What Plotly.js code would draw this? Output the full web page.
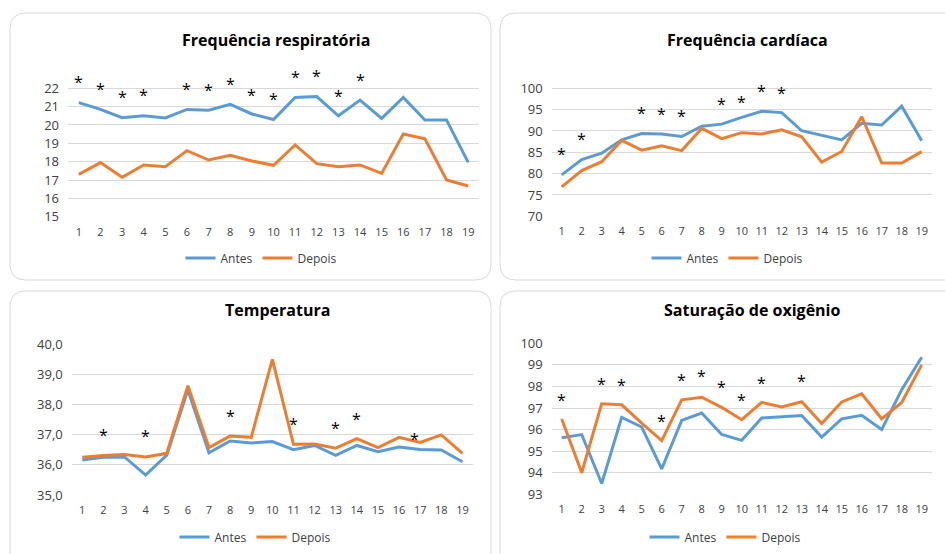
<!DOCTYPE html>
<html>
<head>
<meta charset="utf-8">
<script src="https://cdn.plot.ly/plotly-3.0.1.min.js"></script>
<style>html,body{margin:0;padding:0;background:#fff;}#chart{width:945px;height:554px;}</style>
</head>
<body>
<div id="chart"></div>
<script>
// ---- data ----
const cats = [1,2,3,4,5,6,7,8,9,10,11,12,13,14,15,16,17,18,19];
const seriesNames = ["Antes", "Depois"];

const titleFR = "Frequência respiratória";
const frAntes  = [21.22,20.85,20.40,20.50,20.38,20.85,20.80,21.13,20.60,20.30,21.50,21.55,20.50,21.36,20.36,21.50,20.27,20.27,17.96];
const frDepois = [17.31,17.95,17.15,17.82,17.73,18.60,18.09,18.35,18.04,17.80,18.91,17.89,17.73,17.82,17.36,19.51,19.25,17.00,16.67];
const frTicks = [15,16,17,18,19,20,21,22];
const frSigX = [1,2,3,4,6,7,8,9,10,11,12,13,14];
const frSigY = [22.55,22.18,21.73,21.85,22.18,22.15,22.45,21.87,21.64,22.82,22.87,21.82,22.69];

const titleFC = "Frequência cardíaca";
const fcAntes  = [79.7,83.3,84.8,87.9,89.4,89.3,88.7,91.1,91.6,93.2,94.6,94.3,90.05,89.0,87.9,91.8,91.4,95.8,87.7];
const fcDepois = [76.9,80.7,82.8,87.8,85.5,86.5,85.4,90.6,88.2,89.6,89.3,90.25,88.65,82.7,85.2,93.35,82.5,82.5,85.15];
const fcTicks = [70,75,80,85,90,95,100];
const fcSigX = [1,2,5,6,7,9,10,11,12];
const fcSigY = [85.5,89.0,95.1,94.9,94.35,97.35,97.65,100.3,99.9];

const titleT = "Temperatura";
const tAntes  = [36.16,36.25,36.26,35.66,36.32,38.48,36.40,36.79,36.72,36.77,36.50,36.64,36.31,36.64,36.43,36.59,36.51,36.49,36.10];
const tDepois = [36.25,36.31,36.34,36.26,36.38,38.62,36.57,36.95,36.91,39.49,36.68,36.69,36.55,36.87,36.57,36.91,36.74,36.99,36.38];
const tTicks = [35,36,37,38,39,40];
const tSigX = [2,4,8,11,13,14,16.75];
const tSigY = [37.13,37.07,37.76,37.48,37.35,37.65,37.00];

const titleS = "Saturação de oxigênio";
const sAntes  = [95.62,95.77,93.50,96.57,96.12,94.18,96.43,96.77,95.77,95.50,96.54,96.58,96.65,95.65,96.50,96.66,96.00,97.85,99.35];
const sDepois = [96.49,94.00,97.20,97.15,96.30,95.49,97.38,97.50,97.03,96.46,97.26,97.05,97.29,96.28,97.28,97.66,96.50,97.26,99.00];
const sTicks = [93,94,95,96,97,98,99,100];
const sSigX = [1,3,4,6,7,8,9,10,11,13];
const sSigY = [97.57,98.31,98.26,96.60,98.50,98.65,98.15,97.57,98.34,98.42];

// ---- layout helpers ----
const W = 945, H = 554;
const px = p => p / W;
const py = p => 1 - p / H;
const FONT = "Open Sans, Noto Sans, sans-serif";
const colors = ["#5B9BD5", "#ED7D31"];

function roundRect(x0, y0, x1, y1, r) {
  const X = v => px(v).toFixed(5), Y = v => py(v).toFixed(5);
  return "M" + X(x0 + r) + "," + Y(y0) +
    " L" + X(x1 - r) + "," + Y(y0) +
    " Q" + X(x1) + "," + Y(y0) + " " + X(x1) + "," + Y(y0 + r) +
    " L" + X(x1) + "," + Y(y1 - r) +
    " Q" + X(x1) + "," + Y(y1) + " " + X(x1 - r) + "," + Y(y1) +
    " L" + X(x0 + r) + "," + Y(y1) +
    " Q" + X(x0) + "," + Y(y1) + " " + X(x0) + "," + Y(y1 - r) +
    " L" + X(x0) + "," + Y(y0 + r) +
    " Q" + X(x0) + "," + Y(y0) + " " + X(x0 + r) + "," + Y(y0) + " Z";
}

// plot frame: [left px, right px, px of top gridline, px of bottom gridline], extra headroom value for asterisks
const panels = [
  {title: titleFR, a: frAntes, d: frDepois, sx: frSigX, sy: frSigY, ticks: frTicks, top: 23, fmt: "d",
   dom: [68, 479, 88.3, 216.7], box: [10, 13, 491, 280], tx: 276, ty: 40, lx: 261, ly: 258},
  {title: titleFC, a: fcAntes, d: fcDepois, sx: fcSigX, sy: fcSigY, ticks: fcTicks, top: 101.5, fmt: "d",
   dom: [551.7, 931.7, 88.3, 216.3], box: [500, 13, 965, 280], tx: 747, ty: 40, lx: 727, ly: 258},
  {title: titleT, a: tAntes, d: tDepois, sx: tSigX, sy: tSigY, ticks: tTicks, top: 40, fmt: ".1f",
   dom: [71.7, 473, 344, 495], box: [10, 291, 491, 575], tx: 277, ty: 310, lx: 255, ly: 537},
  {title: titleS, a: sAntes, d: sDepois, sx: sSigX, sy: sSigY, ticks: sTicks, top: 100, fmt: "d",
   dom: [551.7, 931.7, 343.3, 494.3], box: [500, 291, 965, 575], tx: 752, ty: 310, lx: 725, ly: 537}
];

const data = [];
const layout = {
  width: W, height: H,
  margin: {l: 0, r: 0, t: 0, b: 0},
  paper_bgcolor: "#ffffff", plot_bgcolor: "rgba(0,0,0,0)",
  separators: ",.",
  font: {family: FONT, color: "#404040"},
  shapes: [], annotations: []
};

panels.forEach((p, i) => {
  const n = i + 1;
  const xa = n === 1 ? "x" : "x" + n, ya = n === 1 ? "y" : "y" + n;
  const lg = n === 1 ? "legend" : "legend" + n;
  [p.a, p.d].forEach((vals, k) => {
    data.push({
      type: "scatter", mode: "lines", x: cats, y: vals, name: seriesNames[k],
      xaxis: xa, yaxis: ya, legend: lg,
      line: {color: colors[k], width: 3},
      hoverinfo: "skip"
    });
  });
  const tmin = p.ticks[0], tmax = p.ticks[p.ticks.length - 1];
  const pxPerUnit = (p.dom[3] - p.dom[2]) / (tmax - tmin);
  const topPx = p.dom[2] - (p.top - tmax) * pxPerUnit;
  layout["xaxis" + (n === 1 ? "" : n)] = {
    domain: [px(p.dom[0]), px(p.dom[1])], anchor: ya,
    range: [0.5, 19.5], tickvals: cats, ticktext: cats.map(String),
    showgrid: false, zeroline: false, showline: false, ticks: "",
    tickfont: {family: FONT, size: 11, color: "#404040"},
    ticklabelstandoff: 7, fixedrange: true
  };
  layout["yaxis" + (n === 1 ? "" : n)] = {
    domain: [py(p.dom[3]), py(topPx)], anchor: xa,
    range: [tmin - 0.0001, p.top + 0.0001], tickvals: p.ticks, tickformat: p.fmt,
    showgrid: true, gridcolor: "#d9d9d9", gridwidth: 1,
    zeroline: false, showline: false, ticks: "",
    tickfont: {family: FONT, size: 13, color: "#404040"},
    ticklabelstandoff: 8, fixedrange: true
  };
  layout[lg] = {
    orientation: "h", x: px(p.lx), y: py(p.ly), xanchor: "center", yanchor: "middle",
    font: {family: FONT, size: 12, color: "#404040"}, bgcolor: "rgba(0,0,0,0)",
    itemwidth: 30, traceorder: "normal"
  };
  layout.shapes.push({
    type: "path", xref: "paper", yref: "paper", layer: "below",
    path: roundRect(p.box[0], p.box[1], p.box[2], p.box[3], 16),
    line: {color: "#d9d9d9", width: 1}, fillcolor: "rgba(0,0,0,0)"
  });
  layout.annotations.push({
    xref: "paper", yref: "paper", x: px(p.tx), y: py(p.ty),
    xanchor: "center", yanchor: "middle", showarrow: false,
    text: p.title, font: {family: FONT, size: 16, color: "#000000", weight: "bold"}
  });
  p.sx.forEach((sx, j) => {
    layout.annotations.push({
      xref: xa, yref: ya, x: sx, y: p.sy[j], text: "*", showarrow: false,
      xanchor: "center", yanchor: "middle", yshift: -4,
      font: {family: FONT, size: 16, color: "#000000"}
    });
  });
});

Plotly.newPlot("chart", data, layout, {staticPlot: true, displayModeBar: false});
</script>
</body>
</html>
